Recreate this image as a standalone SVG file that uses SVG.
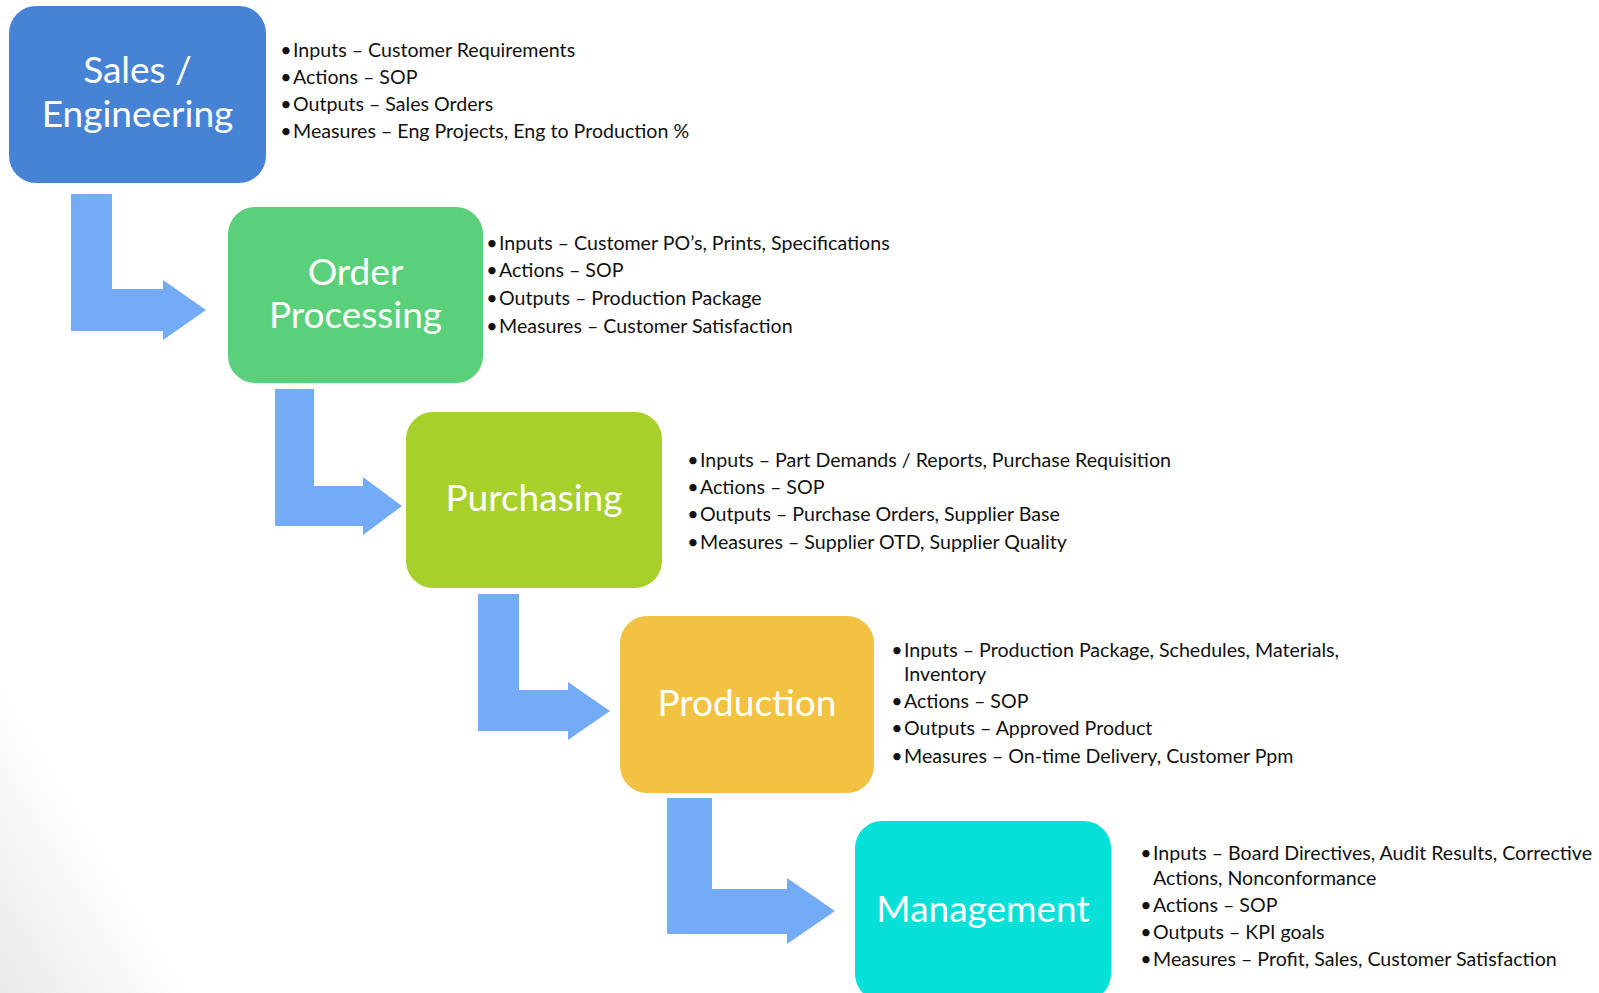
<svg xmlns="http://www.w3.org/2000/svg" width="1599" height="993" viewBox="0 0 1599 993">
<defs>
<linearGradient id="bg" gradientUnits="userSpaceOnUse" x1="0" y1="993" x2="140" y2="908">
<stop offset="0" stop-color="#e9e9e9"/>
<stop offset="1" stop-color="#ffffff"/>
</linearGradient>
<style>
.box{rx:27px;ry:27px}
.lbl{font-family:Lato,"Open Sans",sans-serif;font-size:37px;fill:#ffffff;text-anchor:middle}
.txt{font-family:Lato,"Open Sans",sans-serif;font-size:19.6px;fill:#111111}
.bul{font-family:Lato,"Open Sans",sans-serif;font-size:19.6px;fill:#111111;text-anchor:middle}
.arr{fill:#73abf7}
</style>
</defs>
<rect x="0" y="0" width="1599" height="993" fill="url(#bg)"/>
<g id="connectors">
<path class="arr" d="M71,194 H112 V289 H163 V280 L206,310 L163,340 V331 H71 Z"/>
<path class="arr" d="M275,389 H314 V486 H363 V477 L402,506 L363,535 V526 H275 Z"/>
<path class="arr" d="M478,594 H519 V690 H568 V682 L610,711 L568,740 V731 H478 Z"/>
<path class="arr" d="M667,798 H712 V889 H787 V878 L835,911 L787,944 V934 H667 Z"/>
</g>
<g id="sales">
<rect class="box" x="9" y="6" width="257" height="177" fill="#4783d4"/>
<text class="lbl" x="137.5" y="83">Sales /</text>
<text class="lbl" x="137.5" y="126.5">Engineering</text>
<text class="bul" x="286" y="57">•</text><text class="txt" x="293" y="57">Inputs – Customer Requirements</text>
<text class="bul" x="286" y="84">•</text><text class="txt" x="293" y="84">Actions – SOP</text>
<text class="bul" x="286" y="110.5">•</text><text class="txt" x="293" y="110.5">Outputs – Sales Orders</text>
<text class="bul" x="286" y="137.5">•</text><text class="txt" x="293" y="137.5">Measures – Eng Projects, Eng to Production %</text>
</g>
<g id="order">
<rect class="box" x="228" y="207" width="255" height="176" fill="#5bd07a"/>
<text class="lbl" x="355.5" y="284.5">Order</text>
<text class="lbl" x="355.5" y="327.5">Processing</text>
<text class="bul" x="492" y="249.5">•</text><text class="txt" x="499" y="249.5">Inputs – Customer PO’s, Prints, Specifications</text>
<text class="bul" x="492" y="277">•</text><text class="txt" x="499" y="277">Actions – SOP</text>
<text class="bul" x="492" y="305">•</text><text class="txt" x="499" y="305">Outputs – Production Package</text>
<text class="bul" x="492" y="332.5">•</text><text class="txt" x="499" y="332.5">Measures – Customer Satisfaction</text>
</g>
<g id="purchasing">
<rect class="box" x="406" y="412" width="256" height="176" fill="#a7d12a"/>
<text class="lbl" x="534" y="511">Purchasing</text>
<text class="bul" x="693" y="466.5">•</text><text class="txt" x="700" y="466.5">Inputs – Part Demands / Reports, Purchase Requisition</text>
<text class="bul" x="693" y="493.5">•</text><text class="txt" x="700" y="493.5">Actions – SOP</text>
<text class="bul" x="693" y="521">•</text><text class="txt" x="700" y="521">Outputs – Purchase Orders, Supplier Base</text>
<text class="bul" x="693" y="548.5">•</text><text class="txt" x="700" y="548.5">Measures – Supplier OTD, Supplier Quality</text>
</g>
<g id="production">
<rect class="box" x="620" y="616" width="254" height="177" fill="#f4c242"/>
<text class="lbl" x="747" y="716">Production</text>
<text class="bul" x="897" y="657">•</text><text class="txt" x="904" y="657">Inputs – Production Package, Schedules, Materials,</text>
<text class="txt" x="904" y="680.5">Inventory</text>
<text class="bul" x="897" y="708">•</text><text class="txt" x="904" y="708">Actions – SOP</text>
<text class="bul" x="897" y="735">•</text><text class="txt" x="904" y="735">Outputs – Approved Product</text>
<text class="bul" x="897" y="762.5">•</text><text class="txt" x="904" y="762.5">Measures – On-time Delivery, Customer Ppm</text>
</g>
<g id="management">
<rect class="box" x="855" y="821" width="256" height="180" fill="#07e0d8"/>
<text class="lbl" x="983" y="921.5">Management</text>
<text class="bul" x="1146" y="860">•</text><text class="txt" x="1153" y="860">Inputs – Board Directives, Audit Results, Corrective</text>
<text class="txt" x="1153" y="885">Actions, Nonconformance</text>
<text class="bul" x="1146" y="911.5">•</text><text class="txt" x="1153" y="911.5">Actions – SOP</text>
<text class="bul" x="1146" y="938.5">•</text><text class="txt" x="1153" y="938.5">Outputs – KPI goals</text>
<text class="bul" x="1146" y="965.5">•</text><text class="txt" x="1153" y="965.5">Measures – Profit, Sales, Customer Satisfaction</text>
</g>
</svg>
